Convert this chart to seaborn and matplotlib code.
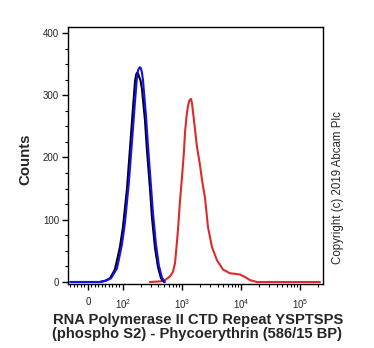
import numpy as np
import pandas as pd
import matplotlib
matplotlib.use("Agg")
import matplotlib.pyplot as plt
import seaborn as sns

# ---- data (fluorescence intensity vs counts) ----
black_x = [-50, 34, 49, 63, 77, 91, 100, 117, 131, 148, 160, 167, 173, 180, 187, 198, 210, 236, 255, 287, 310, 349, 392, 441, 495]
black_y = [0, 0, 2, 6, 20, 55, 88, 150, 212, 280, 322, 333, 336, 335, 330, 324, 310, 260, 212, 150, 104, 55, 24, 6, 0]

blue_x = [-50, 34, 51, 66, 83, 97, 108, 126, 142, 160, 173, 180, 187, 195, 202, 210, 218, 245, 265, 298, 323, 363, 407, 458, 515]
blue_y = [0, 0, 2, 6, 22, 60, 95, 160, 225, 290, 330, 340, 343, 345, 343, 336, 325, 268, 220, 155, 110, 60, 26, 7, 0]

red_x = [287, 424, 515, 627, 700, 762, 855, 925, 1000, 1081, 1125, 1200, 1265, 1340, 1422, 1480, 1538, 1663, 1795, 2018,
         2183, 2455, 2761, 3228, 3917, 4955, 6516, 8222, 9616, 11700, 14220, 18660, 218000]
red_y = [0, 1, 3, 9, 16, 30, 83, 130, 168, 210, 240, 268, 283, 292, 294, 287, 273, 245, 217, 188,
         164, 135, 88, 56, 35, 20, 14, 13, 12, 8, 3, 0, 0]

x_major = [0, 100, 1000, 10000, 100000]
x_major_labels = ["0", "$10^2$", "$10^3$", "$10^4$", "$10^5$"]
y_major = [0, 100, 200, 300, 400]

sns.set_style("ticks")
plt.rcParams["font.family"] = ["Liberation Sans", "DejaVu Sans"]
plt.rcParams["mathtext.default"] = "regular"

fig = plt.figure(figsize=(3.74, 3.48), dpi=100)
ax = fig.add_axes([68 / 374, 1 - 284 / 348, (323 - 68) / 374, (284 - 27) / 348])

df = pd.concat([
    pd.DataFrame({"x": black_x, "y": black_y, "s": "black"}),
    pd.DataFrame({"x": blue_x, "y": blue_y, "s": "blue"}),
    pd.DataFrame({"x": red_x, "y": red_y, "s": "red"}),
])
palette = {"black": "#000000", "blue": "#1010f0", "red": "#dd2a2a"}
for name in ["red", "black", "blue"]:
    sub = df[df["s"] == name]
    sns.lineplot(data=sub, x="x", y="y", color=palette[name], lw=1.5,
                 sort=False, estimator=None, ax=ax, legend=False)

ax.set_xscale("symlog", linthresh=100, linscale=0.5337)
ax.set_xlim(-57, 245000)
ax.set_ylim(-3.2, 409.6)

ax.set_xticks(x_major)
ax.set_xticklabels(x_major_labels)
minors = [-50, -40, -30, -20, -10, 10, 20, 30, 40, 50, 60, 70, 80, 90]
for dec in [100, 1000, 10000, 100000]:
    for k in range(2, 10):
        v = dec * k
        if v < 245000:
            minors.append(v)
ax.set_xticks(minors, minor=True)
ax.set_yticks(y_major)
ax.set_yticks(np.arange(0, 410, 25), minor=True)

for s in ax.spines.values():
    s.set_linewidth(1.0)
    s.set_color("black")
ax.tick_params(axis="both", which="major", length=4.5, width=1.0, labelsize=7, color="black", pad=2)
ax.tick_params(axis="both", which="minor", length=2.5, width=0.8, color="black")
ax.tick_params(axis="x", which="major", pad=5)

ax.set_xlabel("")
ax.set_ylabel("")
fig.text(198 / 374, 1 - 320 / 348, "RNA Polymerase II CTD Repeat YSPTSPS",
         ha="center", va="center", fontsize=10.6, fontweight="bold")
fig.text(197 / 374, 1 - 334 / 348, "(phospho S2) - Phycoerythrin (586/15 BP)",
         ha="center", va="center", fontsize=10.6, fontweight="bold")
fig.text(25 / 374, 1 - 159 / 348, "Counts", rotation=90, ha="center", va="center",
         fontsize=10.8, fontweight="bold")
fig.text(338 / 374, 1 - 188 / 348, "Copyright (c) 2019 Abcam Plc", rotation=90,
         ha="center", va="center", fontsize=8.3)

fig.savefig("out.png", dpi=100)
